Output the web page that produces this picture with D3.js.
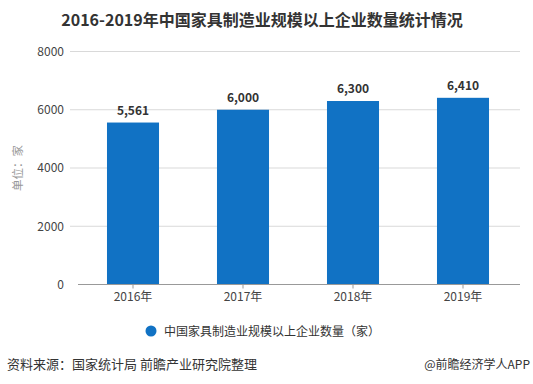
<!DOCTYPE html>
<html><head><meta charset="utf-8">
<script src="https://cdn.jsdelivr.net/npm/d3@7/dist/d3.min.js"></script>
<style>
body{margin:0;background:#fff;}
text{font-family:"Microsoft YaHei","Noto Sans CJK SC","Open Sans",sans-serif;}
</style></head>
<body><svg id="c" width="533" height="384"></svg>
<script>
const categories = ["2016年","2017年","2018年","2019年"];
const values = [5561, 6000, 6300, 6410];
const valueLabels = ["5,561","6,000","6,300","6,410"];
const yTicks = [0, 2000, 4000, 6000, 8000];
const title = "2016-2019年中国家具制造业规模以上企业数量统计情况";
const seriesName = "中国家具制造业规模以上企业数量（家）";
const yTitle = "单位：家";
const source = "资料来源：国家统计局 前瞻产业研究院整理";
const credit = "@前瞻经济学人APP";

const svg = d3.select("#c");
const x = d3.scaleBand().domain(categories).range([78, 518]).paddingInner(0.527).paddingOuter(0.2635);
const y = d3.scaleLinear().domain([0, 8000]).range([284.5, 51.5]);
const color = "#1172c4";

svg.append("text").attr("x", 262).attr("y", 26).attr("text-anchor","middle")
  .attr("font-size", 16).attr("font-weight","bold").attr("fill","#333").text(title);

// grid
svg.append("g").selectAll("line").data(yTicks.filter(d=>d>0)).join("line")
  .attr("x1", 70).attr("x2", 520).attr("y1", d=>y(d)).attr("y2", d=>y(d))
  .attr("stroke","#d9d9d9").attr("stroke-width",1);

// y axis labels
const ya = svg.append("g").attr("transform","translate(70,0)")
  .call(d3.axisLeft(y).tickValues(yTicks).tickFormat(d3.format("d")).tickSize(0).tickPadding(6));
ya.select(".domain").remove();
ya.selectAll("text").attr("font-size", 12).attr("fill","#444");

svg.append("text").attr("transform","translate(22,168) rotate(-90)").attr("text-anchor","middle")
  .attr("font-size", 11.5).attr("fill","#999").text(yTitle);

// bars
svg.append("g").selectAll("rect").data(values).join("rect")
  .attr("x",(d,i)=>x(categories[i])).attr("width", x.bandwidth())
  .attr("y", d=>y(d)).attr("height", d=>y(0)-y(d)).attr("fill", color);

svg.append("g").selectAll("text").data(values).join("text")
  .attr("x",(d,i)=>x(categories[i])+x.bandwidth()/2).attr("y", d=>y(d)-8)
  .attr("text-anchor","middle").attr("font-size",12).attr("font-weight","bold").attr("fill","#333")
  .text((d,i)=>valueLabels[i]);

// x axis
const xa = svg.append("g").attr("transform","translate(0,284.5)")
  .call(d3.axisBottom(x).tickSize(4).tickPadding(4).tickSizeOuter(0));
xa.select(".domain").attr("stroke","#999").attr("d","M78,0H520");
xa.selectAll(".tick line").attr("stroke","#999");
xa.selectAll("text").attr("font-size",12).attr("fill","#444");

// legend
svg.append("circle").attr("cx",151).attr("cy",331).attr("r",5.5).attr("fill",color);
svg.append("text").attr("x",164).attr("y",335.5).attr("font-size",12).attr("fill","#333").text(seriesName);

svg.append("text").attr("x",7).attr("y",369).attr("font-size",13).attr("fill","#333").text(source);
svg.append("text").attr("x",530).attr("y",369).attr("text-anchor","end").attr("font-size",12).attr("fill","#333").text(credit);
</script></body></html>
